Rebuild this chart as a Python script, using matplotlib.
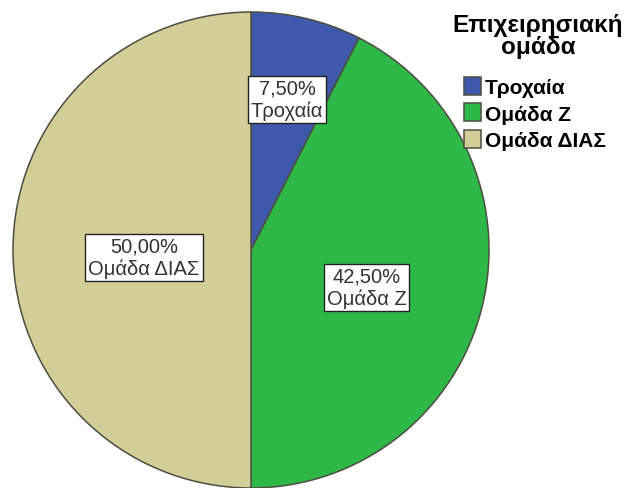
import matplotlib
matplotlib.use("Agg")
import matplotlib.pyplot as plt

plt.rcParams["font.family"] = ["Liberation Sans", "DejaVu Sans"]

groups = ["Τροχαία", "Ομάδα Ζ", "Ομάδα ΔΙΑΣ"]
percents = [7.5, 42.5, 50.0]
colors = ["#3E58AC", "#2EB848", "#D3CE97"]
# label anchor positions inside each wedge (radius units)
label_pos = [(0.152, 0.633), (0.485, -0.156), (-0.45, -0.03)]

W, H = 632, 489
fig = plt.figure(figsize=(W / 100, H / 100), dpi=100)

cx, cy, r = 251, 489 - 251, 238
ax = fig.add_axes([(cx - r) / W, (cy - r) / H, 2 * r / W, 2 * r / H])

wedges, _ = ax.pie(percents, colors=colors, startangle=90, counterclock=False,
                   radius=1, wedgeprops=dict(edgecolor="#4d4d40", linewidth=1.1))
ax.set_xlim(-1, 1)
ax.set_ylim(-1, 1)
ax.axis("off")

for name, pct, (x, y) in zip(groups, percents, label_pos):
    txt = f"{pct:.2f}%".replace(".", ",") + "\n" + name
    ax.text(x, y, txt, ha="center", va="center", fontsize=14.5, color="#333333",
            linespacing=1.15,
            bbox=dict(boxstyle="square,pad=0.15", facecolor="white",
                      edgecolor="#222222", linewidth=1))

# legend title drawn on its own so its spacing can be set freely
fig.text(538 / W, 1 - 14 / H, "Επιχειρησιακή\nομάδα", ha="center", va="top",
         fontsize=17.5, fontweight="bold", linespacing=0.95)

leg = fig.legend(wedges, groups, loc="upper left", bbox_to_anchor=(464 / W, 1 - 78 / H),
                 frameon=False, prop=dict(weight="bold", size=15),
                 handlelength=0.8, handleheight=0.95, handletextpad=0.2,
                 labelspacing=0.3, borderaxespad=0, borderpad=0)

fig.savefig("out.png", dpi=100)
